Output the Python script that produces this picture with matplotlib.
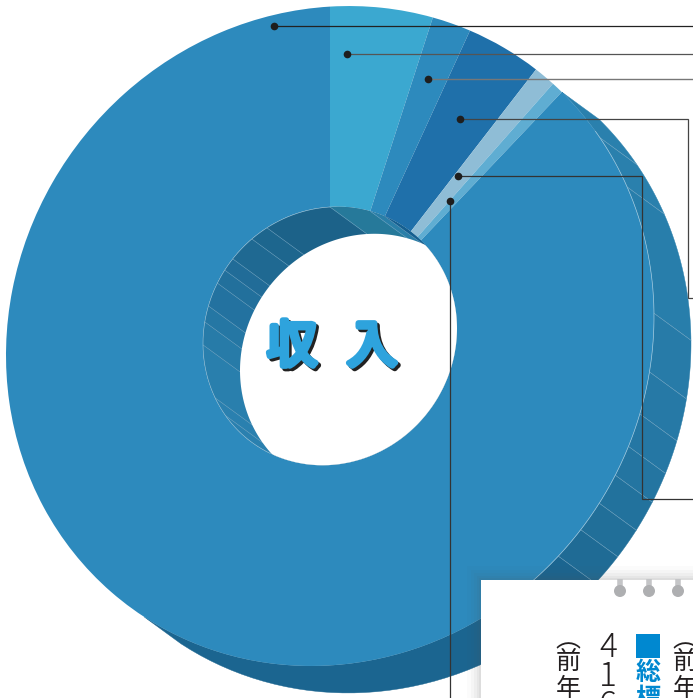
import matplotlib
matplotlib.use("Agg")
import matplotlib.patheffects as pe
import matplotlib.pyplot as plt
import numpy as np
from matplotlib.patches import Circle, Polygon, Rectangle
from matplotlib.transforms import Affine2D

plt.rcParams['font.family'] = ['Noto Sans CJK JP', 'DejaVu Sans']

# revenue shares in percent, clockwise from twelve o'clock
shares = [5.14, 1.97, 3.86, 1.11, 0.61, 87.31]
share_colors = ['#3ba8d0', '#2d8abd', '#1f70aa', '#8fbdd6', '#5fadd2', '#2d8abd']

# outer side wall: segment edges (degrees clockwise from top) and shades
side_angles = [45.7, 56.4, 66.5, 89.4, 99.6, 107, 112.9, 118.3, 123.8, 129.3, 135.2, 215]
side_colors = ['#2a80ad', '#2a80ad', '#287eab', '#277ba8', '#2679a6', '#2577a4',
               '#2475a1', '#22729d', '#216f99', '#1f6b95', '#1b6590']

# wall of the centre hole
hole_angles = [217.9, 235.3, 244.7, 269.4, 279.6, 286.8, 297.5, 304, 310, 322, 330.2, 360, 378.5, 385.6, 397.9]
hole_colors = ['#2a80af', '#2a80af', '#297fad', '#277ba8', '#2577a4', '#2372a0', '#22709c',
               '#216c98', '#1f6992', '#1d668e', '#1c6289', '#26799a', '#2a7fa8', '#155f90']

# leader lines: dot first, then the corners
leaders = [
    ([274, 693], [26, 26], '#222222', 0.9),
    ([347, 693], [54, 54], '#555555', 0.9),
    ([428, 693], [79, 79], '#777777', 1.0),
    ([460, 688, 688, 693], [119, 119, 298, 298], '#444444', 0.9),
    ([458, 642, 642, 693], [176, 176, 499, 499], '#333333', 0.9),
    ([450, 450], [201, 698], '#333333', 0.9),
]

ring_x = [620, 649, 678]

cx, cy = 330, 336
rx, ry = 324, 329.4
tilt = 19.3  # the disc leans, so its rim rises towards the right
hole_rx, hole_ry = 127, 129
dx, dy = 37, 27


def rim(a, x_rad, y_rad):
    t = np.radians(a)
    lean = tilt * x_rad / rx
    return cx + x_rad * np.sin(t), cy - y_rad * np.cos(t) - lean * np.sin(t)


def draw_wall(ax, angles, colors, x_rad, y_rad, clip=None, z=1):
    for a0, a1, c in zip(angles[:-1], angles[1:], colors):
        t = np.linspace(a0, a1, 40)
        x, y = rim(t, x_rad, y_rad)
        pts = np.r_[np.c_[x, y], np.c_[x[::-1] + dx, y[::-1] + dy]]
        p = Polygon(pts, closed=True, fc=c, ec=c, lw=0.3, zorder=z)
        ax.add_patch(p)
        if clip is not None:
            p.set_clip_path(clip)
    for a in angles[1:-1]:
        x, y = rim(a, x_rad, y_rad)
        ln, = ax.plot([x, x + dx], [y, y + dy], color='#7fadc8', lw=0.35, zorder=z + 0.1)
        if clip is not None:
            ln.set_clip_path(clip)


fig = plt.figure(figsize=(6.93, 6.98), dpi=100, facecolor='white')

# side wall sits behind the pie
base = fig.add_axes([0, 0, 1, 1], zorder=0)
base.set_xlim(0, 693)
base.set_ylim(698, 0)
base.axis('off')
draw_wall(base, side_angles, side_colors, rx, ry)

# top face: unit pie sheared and scaled onto the disc
face = fig.add_axes([0, 0, 1, 1], zorder=1)
wedges, _ = face.pie(shares, colors=share_colors, startangle=90, counterclock=False, radius=1,
                     wedgeprops=dict(width=1 - hole_rx / rx, edgecolor='none'))
face.set_aspect('auto')
face.set_xlim(0, 693)
face.set_ylim(0, 698)
face.patch.set_alpha(0)
shear = Affine2D.from_values(rx, tilt, 0, ry, cx, 698 - cy)
for w in wedges:
    w.set_transform(shear + face.transData)
    w.set_clip_on(False)

top = fig.add_axes([0, 0, 1, 1], zorder=2)
top.set_xlim(0, 693)
top.set_ylim(698, 0)
top.axis('off')
top.patch.set_alpha(0)

# thin highlight on the face edge above the side wall
x, y = rim(np.linspace(55, 142, 200), rx, ry)
top.plot(x, y, color='#9cc6dd', lw=0.5, zorder=1)

# centre hole
hole_t = np.linspace(0, 360, 361)
hx, hy = rim(hole_t, hole_rx, hole_ry)
hole = Polygon(np.c_[hx, hy], closed=True, fc='#1d668e', ec='none', zorder=1)
top.add_patch(hole)
draw_wall(top, hole_angles, hole_colors, hole_rx, hole_ry, clip=hole, z=1.2)
x, y = rim(np.linspace(208, 360, 200), hole_rx, hole_ry)
top.plot(x, y, color='#9cc6dd', lw=0.4, zorder=1.5)
opening = Polygon(np.c_[hx + dx, hy + dy], closed=True, fc='white', ec='none', zorder=1.6)
top.add_patch(opening)
opening.set_clip_path(hole)

# centre title with hard shadow, thickened so the stroke ends look round
for label, lx in [('収', 292), ('入', 372)]:
    top.text(lx + 2.5, 350.5, label, fontsize=36, color='#222222',
             ha='center', va='center', zorder=2,
             path_effects=[pe.Stroke(linewidth=4.2, foreground='#222222', joinstyle='round',
                                     capstyle='round'), pe.Normal()])
    top.text(lx, 348, label, fontsize=36, color='#2ea3dd',
             ha='center', va='center', zorder=2.1,
             path_effects=[pe.Stroke(linewidth=4.2, foreground='#2ea3dd', joinstyle='round',
                                     capstyle='round'), pe.Normal()])

# leaders
for xs, ys, c, w in leaders:
    top.plot(xs, ys, color=c, lw=w, zorder=3, solid_joinstyle='miter')
    top.plot(xs[0], ys[0], 'o', color='#1e1e1e', ms=5.5, mew=0, zorder=3.1)

# notepad card with a soft shadow, rings and the start of its text
for grow, a in zip([14, 10, 7, 4, 2], [0.02, 0.03, 0.04, 0.05, 0.06]):
    top.add_patch(Rectangle((481 - grow, 580 - grow), 300, 200, fc='#555555', ec='none',
                            alpha=a, zorder=4))
top.add_patch(Rectangle((481, 580), 300, 200, fc='white', ec='none', zorder=4.2))
for rxp in ring_x:
    top.plot([rxp, rxp], [579, 590], color='#c4c5c7', lw=4, zorder=4.4, solid_capstyle='butt')
    top.add_patch(Circle((rxp, 591), 6, fc='#aeafb1', ec='none', zorder=4.5))

ink = '#231f20'
blue = '#0088d0'
for tx in [568, 685]:
    for s, y in [('︵', 640), ('前', 662), ('年', 689)]:
        top.text(tx, y, s, fontsize=18, color=ink, ha='center', va='center', zorder=5)
for s, y in [('4', 648), ('1', 677), ('6', 706)]:
    top.text(608, y, s, fontsize=24, color=ink, ha='center', va='center', zorder=5, fontweight='light')
top.add_patch(Rectangle((636, 634), 24, 24, fc=blue, ec='none', zorder=5))
for s, y in [('総', 673), ('標', 699)]:
    top.text(648, y, s, fontsize=18, color=blue, ha='center', va='center', zorder=5, fontweight='bold')

fig.savefig('out.png', dpi=100, facecolor='white')
